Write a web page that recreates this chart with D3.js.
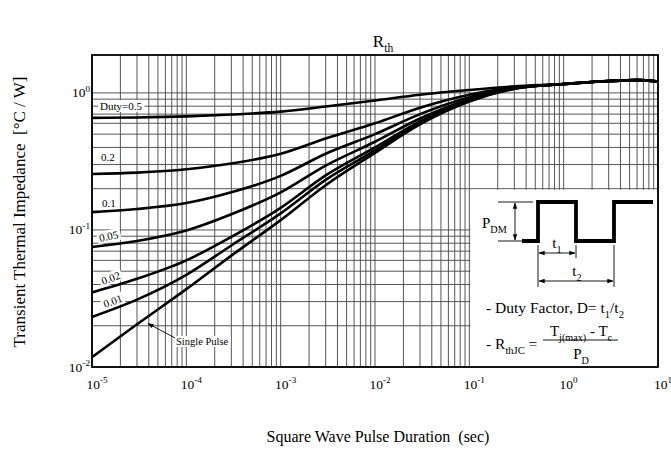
<!DOCTYPE html>
<html>
<head>
<meta charset="utf-8">
<script src="https://cdn.jsdelivr.net/npm/d3@7/dist/d3.min.js"></script>
<style>
  body { margin: 0; background: #fff; }
  svg { display: block; font-family: "Liberation Serif", "Times New Roman", serif; }
</style>
</head>
<body>
<svg id="chart" width="671" height="452"></svg>
<script>
// Pulse durations (s) at which each transient impedance curve is sampled
const durations = [1e-5, 3e-5, 1e-4, 3e-4, 1e-3, 3e-3, 1e-2, 3e-2, 1e-1, 3e-1, 1, 3, 6, 10];

// Transient thermal impedance Zth (°C/W) per duty factor
const zDuty50 = [0.657, 0.662, 0.674, 0.695, 0.730, 0.795, 0.880, 0.970, 1.050, 1.115, 1.16, 1.22, 1.24, 1.21];
const zDuty20 = [0.256, 0.262, 0.277, 0.305, 0.360, 0.465, 0.600, 0.780, 0.970, 1.100, 1.16, 1.22, 1.24, 1.21];
const zDuty10 = [0.135, 0.142, 0.157, 0.188, 0.248, 0.360, 0.500, 0.700, 0.930, 1.090, 1.16, 1.22, 1.24, 1.21];
const zDuty05 = [0.075, 0.083, 0.099, 0.130, 0.188, 0.295, 0.440, 0.650, 0.900, 1.085, 1.16, 1.22, 1.24, 1.21];
const zDuty02 = [0.0350, 0.044, 0.060, 0.089, 0.145, 0.250, 0.400, 0.620, 0.885, 1.080, 1.16, 1.22, 1.24, 1.21];
const zDuty01 = [0.0232, 0.031, 0.047, 0.077, 0.132, 0.232, 0.380, 0.605, 0.875, 1.075, 1.16, 1.22, 1.24, 1.21];
const zSingle = [0.0118, 0.0205, 0.037, 0.065, 0.118, 0.212, 0.365, 0.590, 0.865, 1.070, 1.16, 1.22, 1.24, 1.21];

const seriesNames = ["Duty=0.5", "0.2", "0.1", "0.05", "0.02", "0.01", "Single Pulse"];
const seriesValues = [zDuty50, zDuty20, zDuty10, zDuty05, zDuty02, zDuty01, zSingle];

// Decade exponents for the axis labels
const xTickExponents = [-5, -4, -3, -2, -1, 0, 1];
const yTickExponents = [-2, -1, 0];

const svg = d3.select("#chart");
const plotL = 92, plotR = 658, plotT = 55, plotB = 367;

const x = d3.scaleLog().domain([1e-5, 10]).range([plotL, plotR]);
const y = d3.scaleLog().domain([0.01, 1.89]).range([plotB, plotT]);

// ---- log grid ----
const xGrid = [];
for (let e = -5; e <= 0; e++) for (let k = 1; k <= 9; k++) xGrid.push(k * Math.pow(10, e));
xGrid.push(10);
const yGrid = [];
for (let e = -2; e <= -1; e++) for (let k = 1; k <= 9; k++) yGrid.push(k * Math.pow(10, e));
yGrid.push(1);

const grid = svg.append("g").attr("stroke", "#4d4d4d").attr("stroke-width", 0.95);
grid.selectAll("line.v").data(xGrid).join("line").attr("class", "v")
  .attr("x1", d => x(d)).attr("x2", d => x(d))
  .attr("y1", plotT).attr("y2", plotB);
grid.selectAll("line.h").data(yGrid).join("line").attr("class", "h")
  .attr("x1", plotL).attr("x2", plotR)
  .attr("y1", d => y(d)).attr("y2", d => y(d));

// ---- curves ----
const line = d3.line()
  .x((d, i) => x(durations[i]))
  .y(d => y(d))
  .curve(d3.curveMonotoneX);

svg.append("g").selectAll("path").data(seriesValues).join("path")
  .attr("d", d => line(d))
  .attr("fill", "none")
  .attr("stroke", "#000")
  .attr("stroke-width", 2.6)
  .attr("stroke-linejoin", "round");

// ---- curve labels (white backed) ----
const labelSpecs = [
  { i: 0, x: 100, y: 110, rot: 0 },
  { i: 1, x: 101, y: 161, rot: 0 },
  { i: 2, x: 102, y: 207, rot: 0 },
  { i: 3, x: 100, y: 242, rot: -12 },
  { i: 4, x: 103, y: 285, rot: -20 },
  { i: 5, x: 105, y: 308, rot: -20 }
];
labelSpecs.forEach(s => {
  const g = svg.append("g").attr("transform", `translate(${s.x},${s.y}) rotate(${s.rot})`);
  const t = g.append("text").attr("font-size", 11).attr("x", 0).attr("y", 0).text(seriesNames[s.i]);
  const bb = t.node().getBBox();
  g.insert("rect", "text")
    .attr("x", bb.x - 2).attr("y", bb.y)
    .attr("width", bb.width + 4).attr("height", bb.height)
    .attr("fill", "#fff");
});

// Single pulse callout with arrow
const defs = svg.append("defs");
defs.append("marker").attr("id", "ah").attr("viewBox", "0 0 10 10")
  .attr("refX", 9).attr("refY", 5).attr("markerWidth", 7).attr("markerHeight", 7)
  .attr("orient", "auto-start-reverse")
  .append("path").attr("d", "M0,1.5 L10,5 L0,8.5 Z").attr("fill", "#000");

const sp = svg.append("g");
const spText = sp.append("text").attr("font-size", 10.5).attr("x", 176).attr("y", 345).text(seriesNames[6]);
const spBox = spText.node().getBBox();
sp.insert("rect", "text").attr("x", spBox.x - 2).attr("y", spBox.y)
  .attr("width", spBox.width + 4).attr("height", spBox.height).attr("fill", "#fff");
sp.append("line").attr("x1", 175).attr("y1", 338).attr("x2", 148).attr("y2", 323.5)
  .attr("stroke", "#000").attr("stroke-width", 0.9).attr("marker-end", "url(#ah)");

// ---- inset with pulse definition ----
const inset = svg.append("g");
inset.append("rect")
  .attr("x", x(0.1) + 1).attr("y", y(0.2) + 1)
  .attr("width", plotR - x(0.1) - 1).attr("height", plotB - y(0.2) - 1)
  .attr("fill", "#fff");

const pulse = d3.line();
inset.append("path")
  .attr("d", pulse([[522, 241], [538, 241], [538, 202], [576, 202], [576, 241], [614, 241], [614, 202], [653, 202]]))
  .attr("fill", "none").attr("stroke", "#000").attr("stroke-width", 3.8).attr("stroke-linejoin", "miter");

function seg(x1, y1, x2, y2, arrows) {
  const l = inset.append("line").attr("x1", x1).attr("y1", y1).attr("x2", x2).attr("y2", y2)
    .attr("stroke", "#000").attr("stroke-width", 0.9);
  if (arrows) l.attr("marker-start", "url(#ah)").attr("marker-end", "url(#ah)");
}
seg(498, 202, 533, 202);
seg(498, 241, 522, 241);
seg(515, 203, 515, 240, true);
seg(538, 245, 538, 287);
seg(576, 245, 576, 258);
seg(614, 245, 614, 287);
seg(539, 253, 575, 253, true);
seg(539, 281, 613, 281, true);

// text with sub/superscript parts
function rich(parent, px, py, parts, size, anchor) {
  const t = parent.append("text").attr("x", px).attr("y", py)
    .attr("font-size", size).attr("text-anchor", anchor || "start");
  let shift = 0;
  parts.forEach(p => {
    const target = p.sub ? size * 0.3 : p.sup ? -size * 0.42 : 0;
    const ts = t.append("tspan").text(p.t).attr("dy", target - shift);
    if (p.sub || p.sup) ts.attr("font-size", size * 0.68);
    shift = target;
  });
  return t;
}

rich(inset, 482, 228, [{ t: "P" }, { t: "DM", sub: true }], 15);
rich(inset, 557, 248, [{ t: "t" }, { t: "1", sub: true }], 15, "middle");
rich(inset, 577, 276, [{ t: "t" }, { t: "2", sub: true }], 15, "middle");
rich(inset, 486, 313, [{ t: "- Duty Factor, D= t" }, { t: "1", sub: true }, { t: "/t" }, { t: "2", sub: true }], 15.5);
rich(inset, 486, 349, [{ t: "- R" }, { t: "thJC", sub: true }, { t: " =" }], 15.5);
rich(inset, 581, 336, [{ t: "T" }, { t: "j(max)", sub: true }, { t: " - T" }, { t: "c", sub: true }], 15, "middle");
seg(543, 340, 618, 340);
rich(inset, 581, 359, [{ t: "P" }, { t: "D", sub: true }], 15, "middle");

// ---- frame ----
svg.append("rect").attr("x", plotL).attr("y", plotT)
  .attr("width", plotR - plotL).attr("height", plotB - plotT)
  .attr("fill", "none").attr("stroke", "#000").attr("stroke-width", 1.8);

// ---- axis labels ----
const xl = svg.append("g");
xTickExponents.forEach(e => {
  rich(xl, x(Math.pow(10, e)) + 5, 389, [{ t: "10" }, { t: String(e), sup: true }], 13.5, "middle");
});
const yl = svg.append("g");
yTickExponents.forEach(e => {
  rich(yl, 90, y(Math.pow(10, e)) + 4.5, [{ t: "10" }, { t: String(e), sup: true }], 13.5, "end");
});

// titles
rich(svg, 383, 47, [{ t: "R" }, { t: "th", sub: true }], 17, "middle");
svg.append("text").attr("x", 378).attr("y", 442).attr("text-anchor", "middle")
  .attr("font-size", 16).attr("xml:space", "preserve").text("Square Wave Pulse Duration  (sec)");
svg.append("text").attr("transform", "translate(25,212) rotate(-90)").attr("text-anchor", "middle")
  .attr("font-size", 17).attr("xml:space", "preserve").text("Transient Thermal Impedance  [°C / W]");
</script>
</body>
</html>
